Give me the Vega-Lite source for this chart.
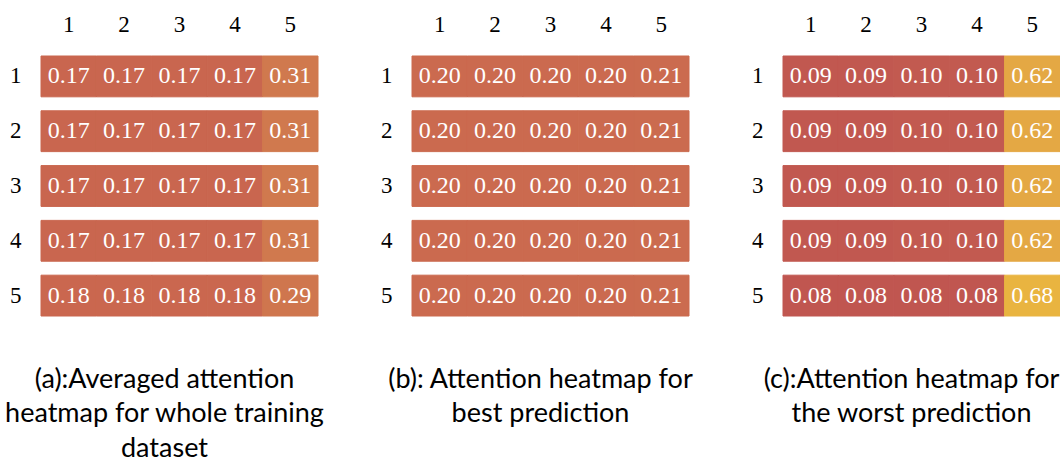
{
  "$schema": "https://vega.github.io/schema/vega-lite/v6.json",
  "background": "white",
  "padding": {"left": 4, "top": 13, "right": 0, "bottom": 0},
  "bounds": "flush",
  "spacing": 94,
  "datasets": {
    "cells": [
      {"panel": "a", "row": 1, "col": 1, "value": 0.17}, {"panel": "a", "row": 1, "col": 2, "value": 0.17}, {"panel": "a", "row": 1, "col": 3, "value": 0.17}, {"panel": "a", "row": 1, "col": 4, "value": 0.17}, {"panel": "a", "row": 1, "col": 5, "value": 0.31},
      {"panel": "a", "row": 2, "col": 1, "value": 0.17}, {"panel": "a", "row": 2, "col": 2, "value": 0.17}, {"panel": "a", "row": 2, "col": 3, "value": 0.17}, {"panel": "a", "row": 2, "col": 4, "value": 0.17}, {"panel": "a", "row": 2, "col": 5, "value": 0.31},
      {"panel": "a", "row": 3, "col": 1, "value": 0.17}, {"panel": "a", "row": 3, "col": 2, "value": 0.17}, {"panel": "a", "row": 3, "col": 3, "value": 0.17}, {"panel": "a", "row": 3, "col": 4, "value": 0.17}, {"panel": "a", "row": 3, "col": 5, "value": 0.31},
      {"panel": "a", "row": 4, "col": 1, "value": 0.17}, {"panel": "a", "row": 4, "col": 2, "value": 0.17}, {"panel": "a", "row": 4, "col": 3, "value": 0.17}, {"panel": "a", "row": 4, "col": 4, "value": 0.17}, {"panel": "a", "row": 4, "col": 5, "value": 0.31},
      {"panel": "a", "row": 5, "col": 1, "value": 0.18}, {"panel": "a", "row": 5, "col": 2, "value": 0.18}, {"panel": "a", "row": 5, "col": 3, "value": 0.18}, {"panel": "a", "row": 5, "col": 4, "value": 0.18}, {"panel": "a", "row": 5, "col": 5, "value": 0.29},
      {"panel": "b", "row": 1, "col": 1, "value": 0.20}, {"panel": "b", "row": 1, "col": 2, "value": 0.20}, {"panel": "b", "row": 1, "col": 3, "value": 0.20}, {"panel": "b", "row": 1, "col": 4, "value": 0.20}, {"panel": "b", "row": 1, "col": 5, "value": 0.21},
      {"panel": "b", "row": 2, "col": 1, "value": 0.20}, {"panel": "b", "row": 2, "col": 2, "value": 0.20}, {"panel": "b", "row": 2, "col": 3, "value": 0.20}, {"panel": "b", "row": 2, "col": 4, "value": 0.20}, {"panel": "b", "row": 2, "col": 5, "value": 0.21},
      {"panel": "b", "row": 3, "col": 1, "value": 0.20}, {"panel": "b", "row": 3, "col": 2, "value": 0.20}, {"panel": "b", "row": 3, "col": 3, "value": 0.20}, {"panel": "b", "row": 3, "col": 4, "value": 0.20}, {"panel": "b", "row": 3, "col": 5, "value": 0.21},
      {"panel": "b", "row": 4, "col": 1, "value": 0.20}, {"panel": "b", "row": 4, "col": 2, "value": 0.20}, {"panel": "b", "row": 4, "col": 3, "value": 0.20}, {"panel": "b", "row": 4, "col": 4, "value": 0.20}, {"panel": "b", "row": 4, "col": 5, "value": 0.21},
      {"panel": "b", "row": 5, "col": 1, "value": 0.20}, {"panel": "b", "row": 5, "col": 2, "value": 0.20}, {"panel": "b", "row": 5, "col": 3, "value": 0.20}, {"panel": "b", "row": 5, "col": 4, "value": 0.20}, {"panel": "b", "row": 5, "col": 5, "value": 0.21},
      {"panel": "c", "row": 1, "col": 1, "value": 0.09}, {"panel": "c", "row": 1, "col": 2, "value": 0.09}, {"panel": "c", "row": 1, "col": 3, "value": 0.10}, {"panel": "c", "row": 1, "col": 4, "value": 0.10}, {"panel": "c", "row": 1, "col": 5, "value": 0.62},
      {"panel": "c", "row": 2, "col": 1, "value": 0.09}, {"panel": "c", "row": 2, "col": 2, "value": 0.09}, {"panel": "c", "row": 2, "col": 3, "value": 0.10}, {"panel": "c", "row": 2, "col": 4, "value": 0.10}, {"panel": "c", "row": 2, "col": 5, "value": 0.62},
      {"panel": "c", "row": 3, "col": 1, "value": 0.09}, {"panel": "c", "row": 3, "col": 2, "value": 0.09}, {"panel": "c", "row": 3, "col": 3, "value": 0.10}, {"panel": "c", "row": 3, "col": 4, "value": 0.10}, {"panel": "c", "row": 3, "col": 5, "value": 0.62},
      {"panel": "c", "row": 4, "col": 1, "value": 0.09}, {"panel": "c", "row": 4, "col": 2, "value": 0.09}, {"panel": "c", "row": 4, "col": 3, "value": 0.10}, {"panel": "c", "row": 4, "col": 4, "value": 0.10}, {"panel": "c", "row": 4, "col": 5, "value": 0.62},
      {"panel": "c", "row": 5, "col": 1, "value": 0.08}, {"panel": "c", "row": 5, "col": 2, "value": 0.08}, {"panel": "c", "row": 5, "col": 3, "value": 0.08}, {"panel": "c", "row": 5, "col": 4, "value": 0.08}, {"panel": "c", "row": 5, "col": 5, "value": 0.68}
    ]
  },
  "hconcat": [
    {
      "width": 277, "height": 260,
      "data": {"name": "cells"},
      "transform": [{"filter": "datum.panel == 'a'"}],
      "title": {"text": ["(a):Averaged attention", "heatmap for whole training", "dataset"], "dx": -15},
      "encoding": {
        "x": {"field": "col", "type": "ordinal", "scale": {"paddingInner": 0, "paddingOuter": 0}},
        "y": {"field": "row", "type": "ordinal", "scale": {"paddingInner": 0.255, "paddingOuter": 0}}
      },
      "layer": [
        {"mark": {"type": "rect", "strokeWidth": 1}, "encoding": {
          "color": {"field": "value", "type": "quantitative", "scale": {"domain": [0.08, 0.17, 0.31, 0.62, 0.68], "range": ["#C05650", "#C9664F", "#D0794E", "#E4A844", "#E9B440"]}, "legend": null},
          "stroke": {"field": "value", "type": "quantitative", "scale": {"domain": [0.08, 0.17, 0.31, 0.62, 0.68], "range": ["#C05650", "#C9664F", "#D0794E", "#E4A844", "#E9B440"]}, "legend": null}}},
        {"mark": {"type": "text", "color": "white", "font": "Times New Roman, Liberation Serif, serif", "fontSize": 24}, "encoding": {"text": {"field": "value", "type": "quantitative", "format": ".2f"}}}
      ]
    },
    {
      "width": 277, "height": 260,
      "data": {"name": "cells"},
      "transform": [{"filter": "datum.panel == 'b'"}],
      "title": {"text": ["(b): Attention heatmap for", "best prediction"], "dx": -10},
      "encoding": {
        "x": {"field": "col", "type": "ordinal", "scale": {"paddingInner": 0, "paddingOuter": 0}},
        "y": {"field": "row", "type": "ordinal", "scale": {"paddingInner": 0.255, "paddingOuter": 0}}
      },
      "layer": [
        {"mark": {"type": "rect", "strokeWidth": 1}, "encoding": {
          "color": {"field": "value", "type": "quantitative", "scale": {"domain": [0.08, 0.17, 0.31, 0.62, 0.68], "range": ["#C05650", "#C9664F", "#D0794E", "#E4A844", "#E9B440"]}, "legend": null},
          "stroke": {"field": "value", "type": "quantitative", "scale": {"domain": [0.08, 0.17, 0.31, 0.62, 0.68], "range": ["#C05650", "#C9664F", "#D0794E", "#E4A844", "#E9B440"]}, "legend": null}}},
        {"mark": {"type": "text", "color": "white", "font": "Times New Roman, Liberation Serif, serif", "fontSize": 24}, "encoding": {"text": {"field": "value", "type": "quantitative", "format": ".2f"}}}
      ]
    },
    {
      "width": 277, "height": 260,
      "data": {"name": "cells"},
      "transform": [{"filter": "datum.panel == 'c'"}],
      "title": {"text": ["(c):Attention heatmap for", "the worst prediction"], "dx": -10},
      "encoding": {
        "x": {"field": "col", "type": "ordinal", "scale": {"paddingInner": 0, "paddingOuter": 0}},
        "y": {"field": "row", "type": "ordinal", "scale": {"paddingInner": 0.255, "paddingOuter": 0}}
      },
      "layer": [
        {"mark": {"type": "rect", "strokeWidth": 1}, "encoding": {
          "color": {"field": "value", "type": "quantitative", "scale": {"domain": [0.08, 0.17, 0.31, 0.62, 0.68], "range": ["#C05650", "#C9664F", "#D0794E", "#E4A844", "#E9B440"]}, "legend": null},
          "stroke": {"field": "value", "type": "quantitative", "scale": {"domain": [0.08, 0.17, 0.31, 0.62, 0.68], "range": ["#C05650", "#C9664F", "#D0794E", "#E4A844", "#E9B440"]}, "legend": null}}},
        {"mark": {"type": "text", "color": "white", "font": "Times New Roman, Liberation Serif, serif", "fontSize": 24}, "encoding": {"text": {"field": "value", "type": "quantitative", "format": ".2f"}}}
      ]
    }
  ],
  "config": {
    "view": {"stroke": null},
    "axisX": {"orient": "top", "title": null, "labelAngle": 0, "ticks": false, "domain": false, "labelFont": "Times New Roman, Liberation Serif, serif", "labelFontSize": 23, "labelColor": "black", "labelPadding": 20},
    "axisY": {"title": null, "ticks": false, "domain": false, "labelFont": "Times New Roman, Liberation Serif, serif", "labelFontSize": 23, "labelColor": "black", "labelPadding": 20},
    "title": {"orient": "bottom", "anchor": "middle", "font": "Lato", "fontSize": 27, "fontWeight": "normal", "color": "black", "lineHeight": 34.5, "offset": 50}
  }
}
